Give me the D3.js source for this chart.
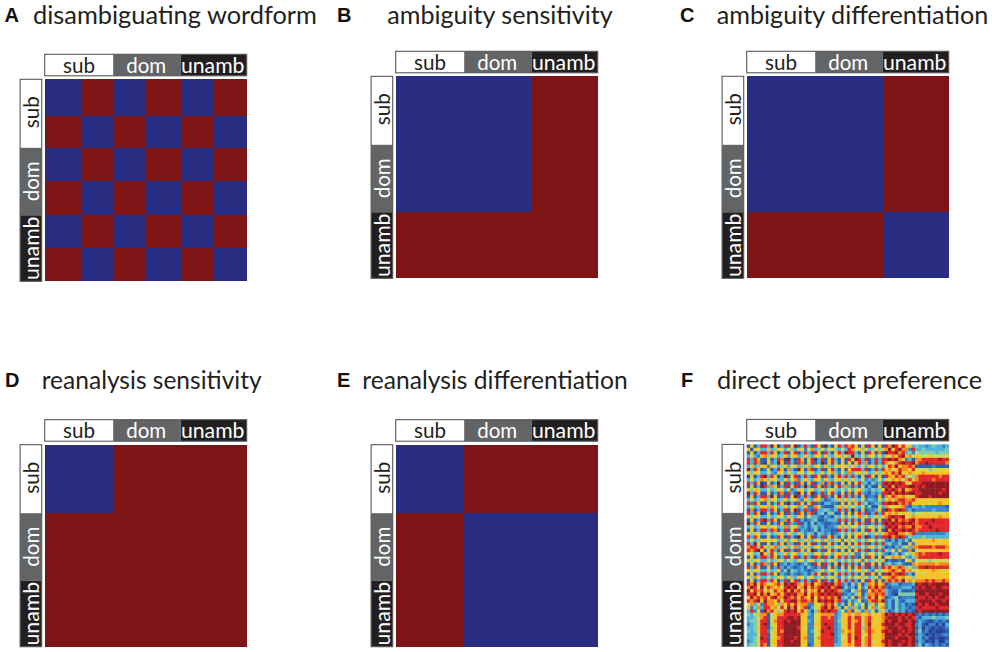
<!DOCTYPE html>
<html>
<head>
<meta charset="utf-8">
<style>
html,body{margin:0;padding:0;background:#fff}
svg{display:block}
</style>
<script src="https://cdnjs.cloudflare.com/ajax/libs/d3/7.8.5/d3.min.js"></script>
</head>
<body>
<svg id="chart" width="992" height="652"></svg>
<script>
// ---- data ----
const categories = ["sub", "dom", "unamb"];
const panelLetters = ["A", "B", "C", "D", "E", "F"];
const panelTitles = ["disambiguating wordform", "ambiguity sensitivity", "ambiguity differentiation",
  "reanalysis sensitivity", "reanalysis differentiation", "direct object preference"];

// 0 = blue (similar), 1 = red (dissimilar)
const matrixA = [
  [0,1,0,1,0,1],
  [1,0,1,0,1,0],
  [0,1,0,1,0,1],
  [1,0,1,0,1,0],
  [0,1,0,1,0,1],
  [1,0,1,0,1,0]
];
const matrixB = [[0,0,1],[0,0,1],[1,1,1]];
const matrixC = [[0,0,1],[0,0,1],[1,1,0]];
const matrixD = [[0,1,1],[1,1,1],[1,1,1]];
const matrixE = [[0,1,1],[1,0,0],[1,0,0]];

// Panel F: lower triangle of the symmetric matrix, estimated by eye on a 0 (dark blue) .. 9 (dark red) scale
const matrixFLower = [
"1",
"61",
"161",
"3532",
"83861",
"838710",
"3634662",
"93861261",
"646533532",
"0613893861",
"3534764653 3",
"8386016139 61",
"1613983761 381",
"6466335346 5362",
"9386116138 71831",
"1613883961 281691",
"3534674653 4635632",
"8286116138 61931861",
"3534664753 463563462",
"1713883861 3816913821",
"8386016138 6183186178 1",
"6465335346 5364366253 32",
"1613893861 3716813123 411",
"9386116138 6183281314 1321",
"3534664653 4735632313 42312",
"1613883871 3816813212 413221",
"6465345346 5364364243 1432312",
"8386116128 6183196168 13816831",
"3534665653 4635634643 653643562",
"8396116138 6173186168 1381683160",
"7884864673 4635734643 6536435646 3",
"8789616838 6183186269 1381683161 61",
"6534964853 4635634643 6536536646 462",
"1613883861 3816813831 8718316838 3821",
"6465335346 5354365356 3463564353 53562",
"1613873861 2313212421 8618316938 383161",
"8386116138 3132123142 1381583161 6168381",
"6465335346 2414323212 3463564353 53564632",
"1613883861 3213212313 8618316838 383161861",
"6475335346 5364365356 3463564253 5356463462",
"1613883861 3816813831 8618316848 3831618616 1",
"8796875678 6989876879 6789897823 1426137686 71",
"7985968767 5898967968 7898978914 2315248797 821",
"9687857586 7979785857 6979898732 1537126878 7321",
"8896979678 6898977968 7898989812 3246137787 83210",
"6978786897 7987868769 5878787934 2617248696 712341",
"8789697768 5889978878 6989897821 4235127887 9231421",
"5736287764 7686867722 6578785241 6253514625 62314231",
"6247388675 8597957813 5689797416 3742615736 723142321",
"3825197864 6898968631 4798988352 7164273514 6312423121",
"4356771567 7888886632 5677772366 7577567566 79898989891",
"3345781568 8899896622 5688782366 8688578666 7899989898 21",
"3445881578 8989996632 5688882466 8678578656 7989989989 132",
"2345891568 8999996622 6689882366 8688579666 8999899889 2310",
"3346881468 8999986522 5688982366 8688478666 7899989989 13021",
"4345882568 7999996623 5698882376 7688578766 8989998989 241201",
"3335881568 8999996622 5688892366 8688568666 7999989899 1320101",
"3345981567 8999896722 5788882356 8698578666 7999899989 23120010",
"2345881668 8998996622 5688882366 8688578566 8989998989 132010200",
"3445871568 8999996612 6688883366 7688578666 7989989989 2413212121"
];

// ---- layout ----
const panelX = [44.7, 395.7, 746.7, 44.7, 395.7, 746.7];
const panelY = [79.3, 76.3, 76.3, 444.7, 444.7, 444.4];
const size = 202;
const titleX = [[33, 317], [387.3, 612.7], [716.7, 988.3], [41.7, 261.7], [362.3, 627.7], [717, 982]];
const letterX = [4.5, 337, 680, 5, 337, 681];
const baseline = [24, 24, 24, 389, 389, 389];
const edgesA = [0, 37, 69, 101.5, 136, 169, 202];
const edges3 = [0, 68.5, 136, 202];

const bin = d3.scaleOrdinal().domain([0, 1]).range(["#2a2e82", "#7d1416"]);
const jet = d3.scaleLinear()
  .domain([0, 1.5, 3, 4, 5.5, 7, 8, 9])
  .range(["#2a3f9c", "#2f6cb8", "#4fb3d9", "#7fcbb0", "#f2e02a", "#f68b1f", "#e2262a", "#8e1a22"]);
const segFill = d3.scaleOrdinal().domain(categories).range(["#ffffff", "#636466", "#231f20"]);
const segText = d3.scaleOrdinal().domain(categories).range(["#231f20", "#ffffff", "#ffffff"]);

const matrixF = (() => {
  const lower = matrixFLower.map(s => s.replace(/ /g, "").split("").map(Number));
  return lower.map((row, i) => lower.map((_, j) => i >= j ? lower[i][j] : lower[j][i]));
})();

const svg = d3.select("#chart");
const defs = svg.append("defs");
defs.append("filter").attr("id", "soft").attr("x", "0").attr("y", "0").attr("width", "100%").attr("height", "100%")
  .append("feGaussianBlur").attr("stdDeviation", 0.55);

const FONT = "Lato, 'Open Sans', sans-serif";
const labelW = [32, 40, 63.5];

function drawBars(g) {
  const s = d3.scaleLinear().domain([0, 1, 2, 3]).range(edges3);
  const cx = [34.3, 101.5, 168];
  // top bar
  const top = g.append("g").attr("transform", "translate(0,-25)");
  top.selectAll("rect").data(categories).join("rect")
    .attr("x", (d, i) => s(i)).attr("y", 0)
    .attr("width", (d, i) => s(i + 1) - s(i)).attr("height", 21.5)
    .attr("fill", d => segFill(d));
  top.append("rect").attr("x", 0).attr("y", 0).attr("width", size).attr("height", 21.5)
    .attr("fill", "none").attr("stroke", "#58595b").attr("stroke-width", 1.1);
  top.selectAll("text").data(categories).join("text")
    .attr("x", (d, i) => cx[i]).attr("y", 18.4)
    .attr("text-anchor", "middle").attr("font-family", FONT).attr("font-size", 21)
    .attr("fill", d => segText(d)).text(d => d)
    .attr("textLength", (d, i) => labelW[i]).attr("lengthAdjust", "spacingAndGlyphs");
  // left bar
  const left = g.append("g").attr("transform", "translate(-24.6,0)");
  left.selectAll("rect").data(categories).join("rect")
    .attr("x", 0).attr("y", (d, i) => s(i))
    .attr("width", 21.6).attr("height", (d, i) => s(i + 1) - s(i))
    .attr("fill", d => segFill(d));
  left.append("rect").attr("x", 0).attr("y", 0).attr("width", 21.6).attr("height", size)
    .attr("fill", "none").attr("stroke", "#58595b").attr("stroke-width", 1.1);
  left.selectAll("text").data(categories).join("text")
    .attr("transform", (d, i) => `translate(18.8,${[33, 102, 169][i]}) rotate(-90)`)
    .attr("text-anchor", "middle").attr("font-family", FONT).attr("font-size", 21)
    .attr("fill", d => segText(d)).text(d => d)
    .attr("textLength", (d, i) => labelW[i]).attr("lengthAdjust", "spacingAndGlyphs");
}

function drawMatrix(g, matrix, edges, color, crisp) {
  const s = d3.scaleLinear().domain(d3.range(edges.length)).range(edges);
  const cells = matrix.flatMap((row, i) => row.map((v, j) => ({ i, j, v })));
  const layer = g.append("g").attr("shape-rendering", crisp ? "crispEdges" : "auto");
  layer.selectAll("rect").data(cells).join("rect")
    .attr("x", d => s(d.j)).attr("y", d => s(d.i))
    .attr("width", d => s(d.j + 1) - s(d.j) + (crisp ? 0 : 0.4))
    .attr("height", d => s(d.i + 1) - s(d.i) + (crisp ? 0 : 0.4))
    .attr("fill", d => color(d.v));
  return layer;
}

const matrices = [matrixA, matrixB, matrixC, matrixD, matrixE];
const edgesF = d3.range(matrixF.length + 1).map(d3.scaleLinear().domain([0, matrixF.length]).range([0, size]));

panelLetters.forEach((letter, p) => {
  svg.append("text").attr("x", letterX[p]).attr("y", baseline[p] - 2)
    .attr("font-family", "'Liberation Sans', Arial, sans-serif").attr("font-weight", 700)
    .attr("font-size", 20).attr("fill", "#111").text(letter);
  svg.append("text").attr("x", titleX[p][0]).attr("y", baseline[p])
    .attr("font-family", FONT).attr("font-size", 24.3).attr("fill", "#231f20")
    .attr("textLength", titleX[p][1] - titleX[p][0]).attr("lengthAdjust", "spacingAndGlyphs")
    .text(panelTitles[p]);

  const g = svg.append("g").attr("transform", `translate(${panelX[p]},${panelY[p]})`);
  if (p < 5) {
    drawMatrix(g, matrices[p], p === 0 ? edgesA : edges3, bin, true);
  } else {
    drawMatrix(g, matrixF, edgesF, jet, false).attr("filter", "url(#soft)");
  }
  drawBars(g);
});
</script>
</body>
</html>
